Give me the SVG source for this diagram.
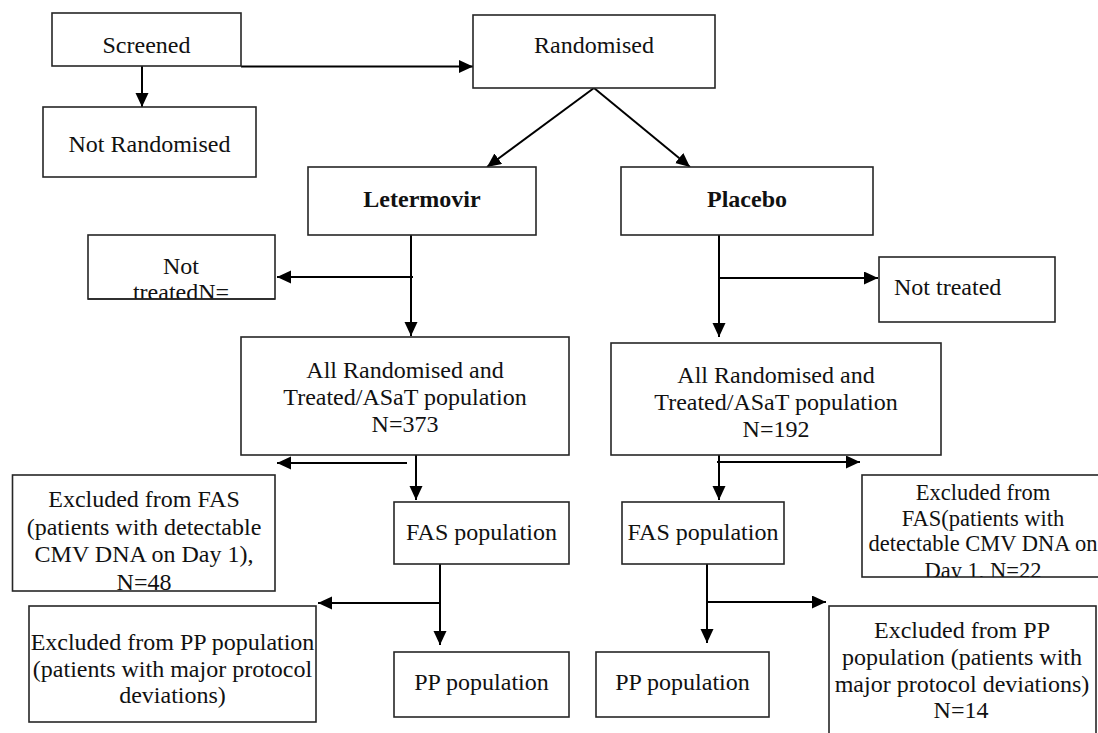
<svg xmlns="http://www.w3.org/2000/svg" width="1098" height="733" viewBox="0 0 1098 733">
<style>
  .box{fill:#fff;stroke:#262626;stroke-width:1.6}
  .t{font-family:"Liberation Serif","Times New Roman",serif;font-size:24px;fill:#111;text-anchor:middle}
  .b{font-weight:bold}
  .s{font-size:22.5px}
  .c{stroke:#000;stroke-width:2;fill:none}
</style>
<defs>
  <marker id="ah" markerUnits="userSpaceOnUse" markerWidth="15" markerHeight="14" refX="14" refY="6.5" orient="auto">
    <path d="M0,0 L14,6.5 L0,13 z" fill="#000"/>
  </marker>
  <clipPath id="cNT"><rect x="88" y="235" width="187" height="64"/></clipPath>
  <clipPath id="cEFL"><rect x="12.5" y="475" width="262.5" height="116"/></clipPath>
  <clipPath id="cEFR"><rect x="862" y="475" width="241" height="102"/></clipPath>
</defs>
<rect width="1098" height="733" fill="#fff"/>

<g id="connectors">
  <line class="c" x1="241" y1="66.5" x2="473" y2="66.5" stroke-width="3" marker-end="url(#ah)"/>
  <line class="c" x1="142" y1="66" x2="142" y2="107" marker-end="url(#ah)"/>
  <line class="c" x1="594" y1="88" x2="487" y2="167" marker-end="url(#ah)"/>
  <line class="c" x1="594" y1="88" x2="690" y2="167" marker-end="url(#ah)"/>
  <line class="c" x1="411" y1="235" x2="411" y2="336" marker-end="url(#ah)"/>
  <line class="c" x1="413" y1="277" x2="277" y2="277" marker-end="url(#ah)"/>
  <line class="c" x1="719" y1="235" x2="719" y2="337" marker-end="url(#ah)"/>
  <line class="c" x1="719" y1="278" x2="878" y2="278" marker-end="url(#ah)"/>
  <line class="c" x1="416" y1="455" x2="416" y2="500" marker-end="url(#ah)"/>
  <line class="c" x1="407" y1="463" x2="277" y2="463" marker-end="url(#ah)"/>
  <line class="c" x1="719" y1="455" x2="719" y2="500" marker-end="url(#ah)"/>
  <line class="c" x1="717" y1="462" x2="860" y2="462" marker-end="url(#ah)"/>
  <line class="c" x1="440" y1="564" x2="440" y2="645" marker-end="url(#ah)"/>
  <line class="c" x1="440" y1="603" x2="318" y2="603" marker-end="url(#ah)"/>
  <line class="c" x1="707" y1="564" x2="707" y2="643" marker-end="url(#ah)"/>
  <line class="c" x1="707" y1="602" x2="826" y2="602" marker-end="url(#ah)"/>
</g>

<g id="screened"><rect class="box" x="52" y="13" width="189" height="53"/>
  <text class="t" x="146.5" y="53">Screened</text></g>
<g id="not-randomised"><rect class="box" x="43" y="107" width="213" height="70"/>
  <text class="t" x="149.5" y="152">Not Randomised</text></g>
<g id="randomised"><rect class="box" x="473" y="15" width="242" height="73"/>
  <text class="t" x="594" y="53">Randomised</text></g>
<g id="letermovir"><rect class="box" x="308" y="167" width="228" height="68"/>
  <text class="t b" x="422" y="207">Letermovir</text></g>
<g id="placebo"><rect class="box" x="621" y="167" width="252" height="68"/>
  <text class="t b" x="747" y="207">Placebo</text></g>
<g id="not-treated-l"><rect class="box" x="88" y="235" width="187" height="64"/>
  <g clip-path="url(#cNT)"><text class="t" x="181" y="274">Not</text>
  <text class="t" x="181" y="300">treatedN=</text></g>
  <line x1="88" y1="299" x2="275" y2="299" stroke="#262626" stroke-width="1.6"/></g>
<g id="not-treated-r"><rect class="box" x="879" y="257" width="176" height="65"/>
  <text class="t" x="894" y="295" text-anchor="start" style="text-anchor:start">Not treated</text></g>
<g id="asat-l"><rect class="box" x="241" y="337" width="328" height="118"/>
  <text class="t" x="405" y="378">All Randomised and</text>
  <text class="t" x="405" y="405">Treated/ASaT population</text>
  <text class="t" x="405" y="432">N=373</text></g>
<g id="asat-r"><rect class="box" x="611" y="343" width="330" height="112"/>
  <text class="t" x="776" y="383">All Randomised and</text>
  <text class="t" x="776" y="410">Treated/ASaT population</text>
  <text class="t" x="776" y="437">N=192</text></g>
<g id="excl-fas-l"><rect class="box" x="12.5" y="475" width="262.5" height="116"/>
  <g clip-path="url(#cEFL)">
  <text class="t" x="144" y="507">Excluded from FAS</text>
  <text class="t" x="144" y="535">(patients with detectable</text>
  <text class="t" x="144" y="562">CMV DNA on Day 1),</text>
  <text class="t" x="144" y="590">N=48</text></g></g>
<g id="fas-l"><rect class="box" x="394" y="502" width="175" height="62"/>
  <text class="t" x="481.5" y="540">FAS population</text></g>
<g id="fas-r"><rect class="box" x="622" y="502" width="162" height="62"/>
  <text class="t" x="703" y="540">FAS population</text></g>
<g id="excl-fas-r"><rect class="box" x="862" y="475" width="241" height="102"/>
  <g clip-path="url(#cEFR)">
  <text class="t s" x="983" y="500">Excluded from</text>
  <text class="t s" x="983" y="526">FAS(patients with</text>
  <text class="t s" x="983" y="551">detectable CMV DNA on</text>
  <text class="t s" x="983" y="578">Day 1, N=22</text></g></g>
<g id="excl-pp-l"><rect class="box" x="29" y="606" width="287" height="116"/>
  <text class="t" x="172.5" y="650">Excluded from PP population</text>
  <text class="t" x="172.5" y="677">(patients with major protocol</text>
  <text class="t" x="172.5" y="703">deviations)</text></g>
<g id="pp-l"><rect class="box" x="394" y="652" width="175" height="65"/>
  <text class="t" x="481.5" y="690">PP population</text></g>
<g id="pp-r"><rect class="box" x="596" y="652" width="173" height="65"/>
  <text class="t" x="682.5" y="690">PP population</text></g>
<g id="excl-pp-r"><rect class="box" x="829" y="606" width="267" height="140"/>
  <text class="t" x="962" y="638">Excluded from PP</text>
  <text class="t" x="962" y="665">population (patients with</text>
  <text class="t" x="962" y="692">major protocol deviations)</text>
  <text class="t" x="961" y="718">N=14</text></g>
</svg>
